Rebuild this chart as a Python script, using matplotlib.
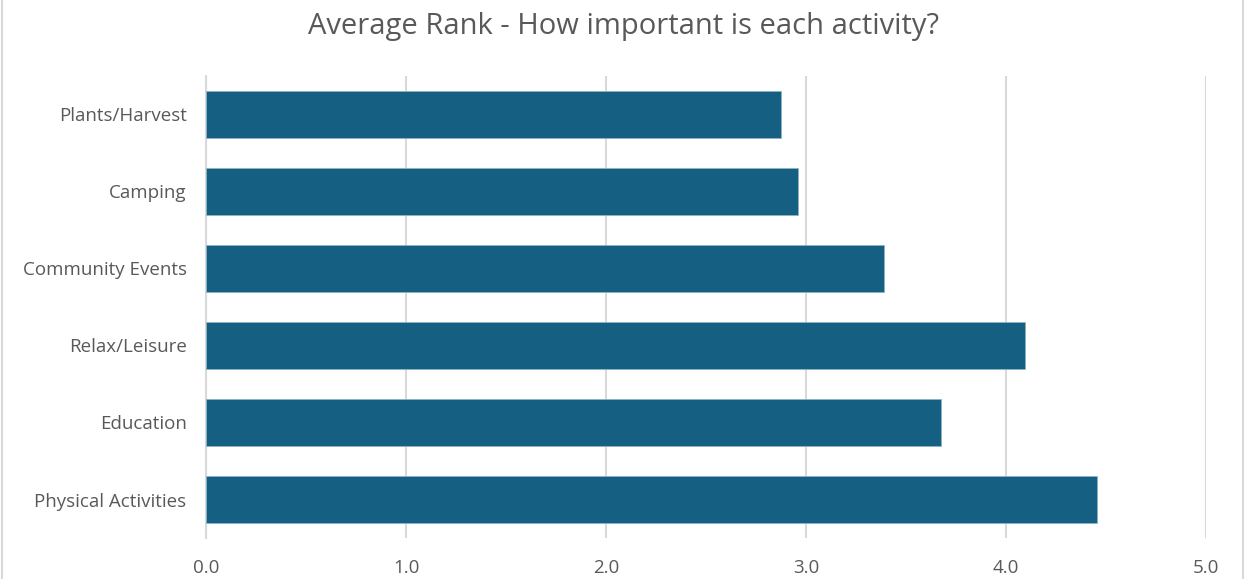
import matplotlib.pyplot as plt
from matplotlib.patches import Rectangle

activities = ["Physical Activities", "Education", "Relax/Leisure",
              "Community Events", "Camping", "Plants/Harvest"]
avg_rank = [4.455, 3.675, 4.095, 3.39, 2.96, 2.875]
x_ticks = [0.0, 1.0, 2.0, 3.0, 4.0, 5.0]

plt.rcParams['font.family'] = ['Open Sans', 'DejaVu Sans']

fig = plt.figure(figsize=(12.47, 5.79), dpi=100)
ax = fig.add_axes([0.1652, 0.0708, 0.8019, 0.798])

ax.barh(range(len(activities)), avg_rank, height=0.62, color='#156082',
        edgecolor='#8fb3c6', linewidth=0.6, zorder=3)

ax.set_xlim(0, 5)
ax.set_ylim(-0.5, len(activities) - 0.5)
ax.set_xticks(x_ticks)
ax.set_xticklabels([f"{t:.1f}" for t in x_ticks])
ax.set_yticks(range(len(activities)))
ax.set_yticklabels(activities)
ax.tick_params(axis='both', length=0, labelsize=13.5, colors='#595959')
ax.tick_params(axis='x', pad=15)
ax.tick_params(axis='y', pad=14)

ax.grid(axis='x', color='#d9d9d9', linewidth=1.5, zorder=0)
for side in ['top', 'right', 'bottom']:
    ax.spines[side].set_visible(False)
ax.spines['left'].set_color('#d9d9d9')
ax.spines['left'].set_linewidth(1.5)

fig.suptitle("Average Rank - How important is each activity?", x=0.5, y=0.98,
             va='top', fontsize=21, color='#595959')

# chart area border
fig.patches.append(Rectangle((0.002, -0.01), 0.995, 1.02, transform=fig.transFigure,
                             fill=False, edgecolor='#d9d9d9', linewidth=1.5))

fig.savefig("out.png", dpi=100)
